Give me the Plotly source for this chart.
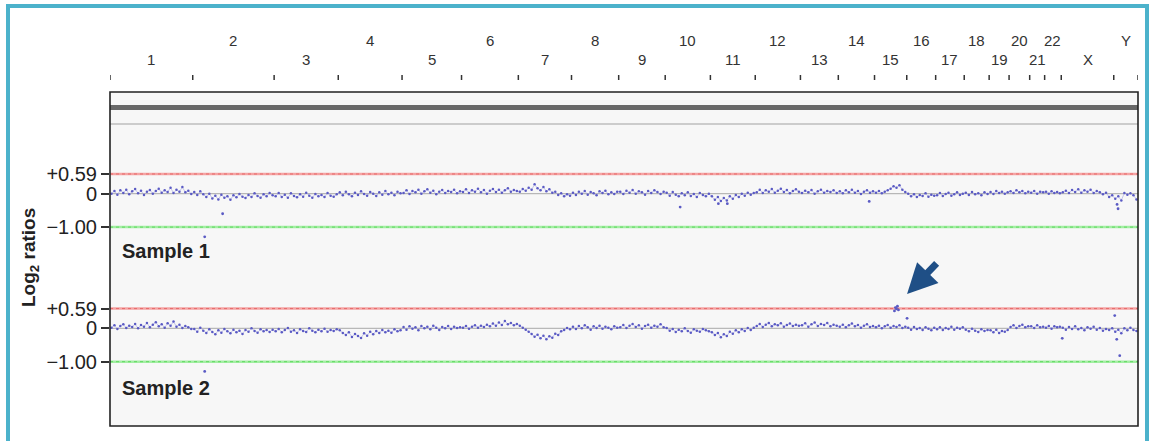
import plotly.graph_objects as go

# ---------------- data ----------------
chrom_names = ["1", "2", "3", "4", "5", "6", "7", "8", "9", "10", "11", "12",
               "13", "14", "15", "16", "17", "18", "19", "20", "21", "22", "X", "Y"]
# chromosome sizes (Mb)
chrom_sizes = [249, 245, 193, 192, 179, 171, 160, 142, 140, 136, 135, 136,
               114, 109, 97, 87, 86, 75, 60, 62, 45, 50, 158, 73]

threshold_gain = 0.59
threshold_loss = -1.00
y_tickvals = [0.59, 0, -1.00]
y_ticktext = ["+0.59", "0", "\u22121.00"]

# log2 ratios per chromosome, evenly spread along each chromosome
sample1 = [
    [0.0, 0.08, -0.03, 0.1, 0.02, 0.12, -0.02, 0.07, 0.14, 0.01, 0.09, -0.04, 0.06, 0.11, 0.0, 0.08, 0.15, 0.03, 0.1, 0.05, 0.18, 0.02, 0.12, 0.06, 0.2, 0.04, 0.09, -0.01],
    [0.05, -0.04, 0.07, -0.02, -0.1, 0.0, -0.14, -0.06, -0.17, -0.03, -0.12, -0.08, -0.18, -0.05, -0.11, -0.01, -0.09, -0.13, -0.04, -0.1, 0.01, -0.07, -0.12, -0.02, -0.08, 0.02, -0.05],
    [-0.08, 0.02, -0.1, -0.03, -0.12, 0.01, -0.07, -0.11, -0.02, -0.09, 0.03, -0.06, -0.12, -0.01, -0.08, -0.04, -0.1, 0.02, -0.06, -0.09, -0.02],
    [0.04, -0.05, 0.06, -0.02, -0.08, 0.03, -0.04, 0.07, -0.01, -0.06, 0.05, 0.0, -0.07, 0.04, -0.03, 0.08, -0.02, 0.03, -0.05, 0.06, 0.01],
    [0.02, 0.1, -0.01, 0.08, 0.04, 0.12, 0.0, 0.07, 0.13, 0.03, 0.09, -0.02, 0.06, 0.11, 0.02, 0.08, 0.05, 0.12, 0.01, 0.07],
    [0.05, 0.13, 0.02, 0.1, 0.06, 0.15, 0.04, 0.11, 0.0, 0.09, 0.14, 0.05, 0.12, 0.03, 0.1, 0.16, 0.06, 0.11, 0.08],
    [0.06, 0.14, 0.09, 0.18, 0.12, 0.28, 0.16, 0.1, 0.2, 0.07, 0.13, 0.03, 0.06, -0.04, 0.01, -0.08, -0.02, -0.06],
    [0.03, -0.04, 0.06, 0.0, 0.08, -0.03, 0.05, 0.01, -0.05, 0.07, 0.02, 0.09, -0.02, 0.04, -0.01, 0.06],
    [0.06, -0.01, 0.09, 0.03, 0.11, 0.0, 0.07, 0.04, -0.03, 0.08, 0.02, 0.1, 0.05, -0.01, 0.06],
    [0.03, -0.06, 0.05, -0.03, -0.08, 0.01, -0.05, 0.04, -0.07, -0.01, -0.1, 0.02, -0.04, -0.08, 0.0],
    [-0.08, -0.18, -0.1, -0.22, -0.13, -0.2, -0.08, -0.15, -0.04, -0.1, 0.0, -0.06, 0.03, -0.03, 0.02],
    [0.04, 0.12, 0.02, 0.1, 0.06, 0.14, 0.03, 0.09, 0.15, 0.05, 0.11, 0.01, 0.08, 0.13, 0.06],
    [0.02, 0.09, 0.04, 0.11, 0.0, 0.07, 0.12, 0.03, 0.08, 0.05, 0.1, 0.02],
    [0.07, 0.01, 0.1, 0.04, 0.12, 0.03, 0.08, -0.01, 0.06, 0.1, 0.03, 0.07],
    [0.03, 0.08, 0.01, 0.06, 0.1, 0.15, 0.22, 0.18, 0.25, 0.12, 0.05],
    [0.0, -0.08, -0.02, -0.1, -0.04, -0.07, 0.01, -0.09, -0.03, -0.06],
    [-0.05, 0.02, -0.07, -0.01, 0.03, -0.06, -0.02, 0.04, -0.04, 0.0],
    [0.03, -0.04, 0.05, -0.02, 0.01, -0.05, 0.04, -0.01],
    [0.05, -0.01, 0.08, 0.02, 0.06, 0.0, 0.04],
    [0.07, 0.02, 0.1, 0.04, 0.08, 0.01, 0.06],
    [0.03, 0.08, 0.0, 0.06, 0.04],
    [0.06, 0.0, 0.07, 0.02, 0.05, 0.01],
    [0.04, 0.09, 0.02, 0.11, 0.05, 0.13, 0.03, 0.1, 0.06, 0.12, 0.02, 0.08, 0.04, -0.02, 0.03, -0.1, -0.05],
    [-0.15, -0.08, -0.2, 0.02, -0.03, 0.01, -0.05, -0.17],
]
# isolated probes: chromosome index, position in chromosome (Mb), log2 ratio
s1_out_chrom = [1, 1, 9, 10, 10, 13, 23, 23]
s1_out_pos = [36, 90, 45, 24, 51, 93, 10, 13]
s1_out_val = [-1.29, -0.6, -0.4, -0.3, -0.3, -0.23, -0.32, -0.45]

sample2 = [
    [0.02, 0.09, -0.02, 0.07, 0.12, 0.01, 0.08, 0.04, 0.13, 0.0, 0.1, 0.05, 0.16, 0.03, 0.11, 0.18, 0.06, 0.12, 0.02, 0.15, 0.08, 0.2, 0.05, 0.11, 0.01, 0.07, 0.03, -0.02],
    [-0.02, -0.1, 0.02, -0.07, -0.14, -0.03, -0.11, -0.18, -0.06, -0.13, -0.02, -0.09, -0.15, -0.04, -0.12, -0.07, -0.17, -0.05, -0.1, 0.0, -0.08, -0.13, -0.03, -0.09, -0.05, -0.11, -0.04],
    [-0.09, -0.02, -0.12, -0.05, 0.01, -0.1, -0.06, -0.14, -0.03, -0.08, -0.11, 0.0, -0.07, -0.12, -0.04, -0.09, -0.01, -0.1, -0.05, -0.08, -0.03],
    [-0.06, -0.14, -0.2, -0.12, -0.26, -0.17, -0.23, -0.29, -0.15, -0.22, -0.1, -0.18, -0.08, -0.14, -0.05, -0.12, -0.07, -0.13, -0.03, -0.09, -0.06],
    [0.04, -0.04, 0.06, -0.01, 0.03, -0.06, 0.07, 0.0, 0.05, -0.03, 0.08, 0.02, -0.05, 0.04, 0.0, 0.07, -0.02, 0.05, 0.01, 0.03],
    [0.02, 0.07, -0.01, 0.05, 0.09, 0.02, 0.08, 0.04, 0.11, 0.06, 0.14, 0.08, 0.17, 0.1, 0.22, 0.12, 0.16, 0.09, 0.13],
    [0.08, 0.02, -0.04, -0.1, -0.17, -0.25, -0.19, -0.3, -0.22, -0.33, -0.24, -0.28, -0.16, -0.2, -0.09, -0.05, 0.01, -0.03],
    [0.05, -0.02, 0.07, 0.0, 0.09, 0.03, -0.04, 0.06, 0.01, 0.08, -0.01, 0.05, 0.02, -0.03, 0.06, 0.02],
    [0.03, 0.1, 0.01, 0.08, 0.13, 0.04, 0.09, -0.01, 0.07, 0.11, 0.02, 0.08, 0.05, 0.12, 0.03],
    [0.01, -0.07, -0.02, -0.11, -0.04, -0.09, 0.0, -0.08, -0.13, -0.03, -0.07, -0.1, -0.02, -0.06, -0.09],
    [-0.12, -0.2, -0.14, -0.27, -0.18, -0.23, -0.1, -0.16, -0.06, -0.12, -0.03, -0.08, 0.01, -0.05, 0.02],
    [0.07, 0.13, 0.04, 0.11, 0.16, 0.06, 0.12, 0.09, 0.15, 0.05, 0.1, 0.14, 0.07, 0.11, 0.08],
    [0.09, 0.15, 0.05, 0.12, 0.17, 0.07, 0.13, 0.1, 0.16, 0.06, 0.11, 0.08],
    [0.05, 0.11, 0.03, 0.09, 0.14, 0.06, 0.1, 0.02, 0.08, 0.12, 0.04, 0.07],
    [0.03, 0.08, 0.0, 0.06, 0.1, 0.02, 0.07, 0.04, 0.09, 0.01, 0.05],
    [0.02, -0.04, 0.04, -0.02, 0.01, -0.05, 0.03, -0.01, -0.06, 0.02],
    [-0.03, 0.03, -0.05, 0.01, -0.02, 0.05, -0.04, 0.02, -0.01, 0.03],
    [-0.04, -0.09, -0.01, -0.07, -0.11, -0.03, -0.08, -0.05],
    [-0.06, -0.12, -0.04, -0.14, -0.08, -0.1, -0.05],
    [0.04, 0.09, 0.01, 0.07, 0.11, 0.03, 0.06],
    [0.06, 0.01, 0.09, 0.03, 0.05],
    [0.02, 0.07, -0.01, 0.06, 0.03, 0.05],
    [0.02, -0.04, 0.04, -0.02, 0.06, -0.03, 0.01, -0.06, 0.03, -0.01, 0.05, -0.04, 0.01, -0.07, -0.02, -0.05, 0.0],
    [-0.1, -0.04, -0.15, 0.0, -0.06, 0.02, -0.05, -0.08],
]
s2_out_chrom = [1, 14, 14, 14, 14, 14, 15, 22, 23, 23, 23]
s2_out_pos = [36, 60, 63, 66, 69, 72, 1, 3, 3, 9, 18]
s2_out_val = [-1.29, 0.52, 0.62, 0.58, 0.66, 0.55, 0.3, -0.3, 0.38, -0.33, -0.82]

sample_names = ["Sample 1", "Sample 2"]

# ---------------- derived genome coordinates ----------------
starts = []
acc = 0
for s in chrom_sizes:
    starts.append(acc)
    acc += s
genome_len = acc
boundaries = starts + [genome_len]
centers = [st + sz / 2 for st, sz in zip(starts, chrom_sizes)]


def to_xy(per_chrom):
    xs, ys = [], []
    for st, sz, vals in zip(starts, chrom_sizes, per_chrom):
        n = len(vals)
        for i, v in enumerate(vals):
            xs.append(st + (i + 0.5) * sz / n)
            ys.append(v)
    return xs, ys


def out_xy(chroms, pos, vals):
    return [starts[c] + p for c, p in zip(chroms, pos)], list(vals)


# ---------------- layout geometry (px) ----------------
W, H = 1152, 441
ML, MR, MT, MB = 110, 14, 92, 15
PW = W - ML - MR
PH = H - MT - MB


def py(px):  # pixel y -> paper y
    return (H - MB - px) / PH


def pxx(px):  # pixel x -> paper x
    return (px - ML) / PW


scale = 33.4
zero_px = [193.7, 328.3]
panel_top = [136, 270.6]
panel_bot = [262, 396.6]
yrange = [-(panel_bot[0] - zero_px[0]) / scale, (zero_px[0] - panel_top[0]) / scale]

fig = go.Figure()
axes = ["y", "y2"]
font_family = "Liberation Sans, Arial, Helvetica, sans-serif"
outliers = [out_xy(s1_out_chrom, s1_out_pos, s1_out_val), out_xy(s2_out_chrom, s2_out_pos, s2_out_val)]

for k, (data, ax) in enumerate(zip([sample1, sample2], axes)):
    xs, ys = to_xy(data)
    ox, oy = outliers[k]
    # reference lines
    fig.add_trace(go.Scatter(x=[0, genome_len], y=[0, 0], mode="lines", yaxis=ax,
                             line=dict(color="#a8a8a8", width=1), hoverinfo="skip", showlegend=False))
    fig.add_trace(go.Scatter(x=[0, genome_len], y=[threshold_gain] * 2, mode="lines", yaxis=ax,
                             line=dict(color="#f5a3a3", width=2.5), hoverinfo="skip", showlegend=False))
    fig.add_trace(go.Scatter(x=[0, genome_len], y=[threshold_gain] * 2, mode="lines", yaxis=ax,
                             line=dict(color="#e56a6a", width=1, dash="dot"), hoverinfo="skip", showlegend=False))
    fig.add_trace(go.Scatter(x=[0, genome_len], y=[threshold_loss] * 2, mode="lines", yaxis=ax,
                             line=dict(color="#a3eea3", width=2.5), hoverinfo="skip", showlegend=False))
    fig.add_trace(go.Scatter(x=[0, genome_len], y=[threshold_loss] * 2, mode="lines", yaxis=ax,
                             line=dict(color="#5fd85f", width=1, dash="dot"), hoverinfo="skip", showlegend=False))
    # data trace
    fig.add_trace(go.Scatter(x=xs, y=ys, mode="lines+markers", yaxis=ax, name=sample_names[k],
                             line=dict(color="#a0a0e2", width=0.6),
                             marker=dict(color="#5a5ac4", size=2.5),
                             showlegend=False))
    fig.add_trace(go.Scatter(x=ox, y=oy, mode="markers", yaxis=ax, name=sample_names[k] + " probes",
                             marker=dict(color="#5a5ac4", size=2.8), showlegend=False))

yax_common = dict(range=yrange, tickvals=y_tickvals, ticktext=y_ticktext, ticks="outside",
                  ticklen=8, tickwidth=1.5, tickcolor="#333333", showgrid=False, zeroline=False,
                  showline=False, tickfont=dict(size=20, color="#222222", family=font_family),
                  fixedrange=True)

shapes = []
# plot interior fill
shapes.append(dict(type="rect", xref="paper", yref="paper", x0=0, x1=1, y0=0, y1=1,
                   line=dict(width=0), fillcolor="#f7f7f7", layer="below"))
# top header bands
shapes.append(dict(type="line", xref="paper", yref="paper", x0=0, x1=1, y0=py(107.5), y1=py(107.5),
                   line=dict(color="#686868", width=5)))
shapes.append(dict(type="line", xref="paper", yref="paper", x0=0, x1=1, y0=py(124), y1=py(124),
                   line=dict(color="#cccccc", width=2)))
# plot frame
shapes.append(dict(type="rect", xref="paper", yref="paper", x0=0, x1=1, y0=0, y1=1,
                   line=dict(color="#222222", width=1.6), fillcolor="rgba(0,0,0,0)", layer="above"))
# chromosome boundary ticks above the frame
for b in boundaries:
    shapes.append(dict(type="line", xref="x", yref="paper", x0=b, x1=b, y0=py(80), y1=py(75),
                       line=dict(color="#333333", width=1.5)))
# outer teal border
shapes.append(dict(type="rect", xref="paper", yref="paper", x0=pxx(8), x1=pxx(1147),
                   y0=py(460), y1=py(6), line=dict(color="#4cb2cb", width=4),
                   fillcolor="rgba(0,0,0,0)"))

annotations = []
for i, (name, c) in enumerate(zip(chrom_names, centers)):
    ypix = 40 if i % 2 == 1 else 59.5
    annotations.append(dict(x=c, y=py(ypix), xref="x", yref="paper", text=name, showarrow=False,
                            xanchor="center", yanchor="middle",
                            font=dict(size=15, color="#333333", family=font_family)))
annotations.append(dict(x=pxx(30), y=py(258), xref="paper", yref="paper",
                        text="<b>Log<sub>2</sub> ratios</b>", textangle=-90, showarrow=False,
                        xanchor="center", yanchor="middle",
                        font=dict(size=19, color="#222222", family=font_family)))
for name, ypix in zip(sample_names, [251, 388]):
    annotations.append(dict(x=pxx(120), y=py(ypix), xref="paper", yref="paper",
                            text="<b>" + name + "</b>", showarrow=False,
                            xanchor="left", yanchor="middle",
                            font=dict(size=20, color="#222222", family=font_family)))
# arrow pointing at the gain in sample 2 (chr 15/16)
annotations.append(dict(x=starts[15] + 1, y=1.03, xref="x", yref="y2",
                        ax=31, ay=-32, axref="pixel", ayref="pixel", text="", showarrow=True,
                        arrowhead=2, arrowsize=0.85, arrowwidth=7, arrowcolor="#1f4f86",
                        standoff=0))

fig.update_layout(
    width=W, height=H,
    margin=dict(l=ML, r=MR, t=MT, b=MB, pad=0),
    paper_bgcolor="white", plot_bgcolor="rgba(0,0,0,0)",
    xaxis=dict(range=[0, genome_len], visible=False, anchor="y2", fixedrange=True),
    yaxis=dict(domain=[py(panel_bot[0]), py(panel_top[0])], **yax_common),
    yaxis2=dict(domain=[py(panel_bot[1]), py(panel_top[1])], **yax_common),
    shapes=shapes, annotations=annotations,
    showlegend=False,
)

fig.write_html("out.html", config={"displayModeBar": False},
               post_script="document.body.style.margin='0';document.body.style.overflow='hidden';")
